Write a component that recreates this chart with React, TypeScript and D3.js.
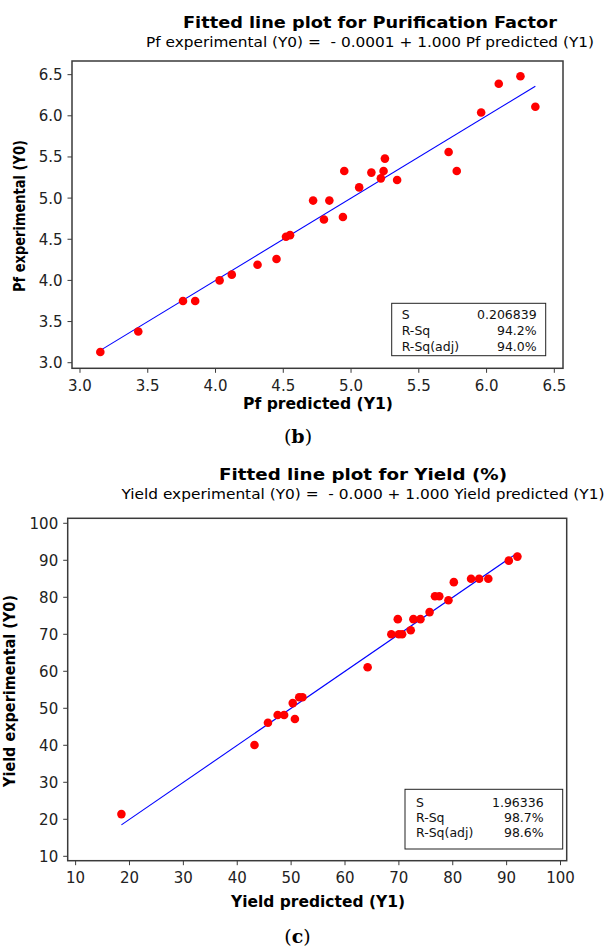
import React from 'react';
import * as d3 from 'd3';

// (b) purification factor
const pfPredicted = [3.15, 3.43, 3.76, 3.85, 4.03, 4.12, 4.31, 4.45, 4.52, 4.55, 4.72, 4.84, 4.80, 4.94, 4.95, 5.06, 5.15, 5.22, 5.24, 5.25, 5.34, 5.72, 5.78, 5.96, 6.09, 6.25, 6.36];
const pfExperimental = [3.13, 3.38, 3.75, 3.75, 4.00, 4.07, 4.19, 4.26, 4.53, 4.55, 4.97, 4.97, 4.74, 4.77, 5.33, 5.13, 5.31, 5.24, 5.33, 5.48, 5.22, 5.56, 5.33, 6.04, 6.39, 6.48, 6.11];
const pfTicks = [3.0, 3.5, 4.0, 4.5, 5.0, 5.5, 6.0, 6.5];
const pfStatValues = ['0.206839', '94.2%', '94.0%'];

// (c) yield
const yieldPredicted = [18.5, 43.2, 45.7, 47.5, 48.7, 50.7, 50.3, 51.5, 52.1, 64.2, 68.6, 69.8, 70.0, 70.6, 72.2, 72.7, 74.0, 75.7, 76.7, 77.5, 79.2, 80.2, 83.4, 84.9, 86.6, 90.4, 92.0];
const yieldExperimental = [21.4, 40.1, 46.1, 48.2, 48.2, 47.1, 51.4, 53.0, 53.0, 61.1, 70.0, 74.1, 70.0, 70.0, 71.1, 74.1, 74.1, 76.0, 80.3, 80.3, 79.2, 84.1, 85.0, 85.0, 85.0, 89.9, 91.0];
const yieldTicks = [10, 20, 30, 40, 50, 60, 70, 80, 90, 100];
const yieldStatValues = ['1.96336', '98.7%', '98.6%'];

const statLabels = ['S', 'R-Sq', 'R-Sq(adj)'];
// fitted equations: Y0 = a + b * Y1
const pfFit = [-0.0001, 1.0];
const yieldFit = [0.0, 1.0];

const SANS = "'DejaVu Sans', Verdana, sans-serif";
const SERIF = "'DejaVu Serif', 'Liberation Serif', serif";

type PlotProps = {
  xs: number[]; ys: number[]; ticks: number[]; fmt: (v: number) => string;
  fit: number[]; stats: string[];
  frame: { left: number; right: number; top: number; bottom: number };
  xDomain: number[]; yDomain: number[];
  title: string; titleX: number; titleY: number; titleLen: number;
  sub: string; subY: number; subLen: number;
  xLabel: string; xLabelX: number; xLabelY: number; xLabelLen: number;
  yLabel: string; yLabelX: number; yLabelY: number; yLabelLen: number;
  box: { left: number; right: number; top: number; bottom: number; pad: number; padR: number; first: number; step: number };
  tag: string; tagX: number; tagY: number;
};

function FittedPlot(p: PlotProps) {
  const f = p.frame;
  const x = d3.scaleLinear().domain(p.xDomain).range([f.left, f.right]);
  const y = d3.scaleLinear().domain(p.yDomain).range([f.bottom, f.top]);
  const xmin = d3.min(p.xs) as number, xmax = d3.max(p.xs) as number;
  const fitLine = d3.line<number>().x(d => x(d)).y(d => y(p.fit[0] + p.fit[1] * d));
  const tick = 4.5;
  return (
    <g>
      <text x={p.titleX} y={p.titleY} textAnchor="middle" fontFamily={SANS} fontWeight="bold" fontSize={16.5}
        textLength={p.titleLen} lengthAdjust="spacingAndGlyphs">{p.title}</text>
      <text x={p.titleX} y={p.subY} textAnchor="middle" fontFamily={SANS} fontSize={14} style={{ whiteSpace: 'pre' }}
        textLength={p.subLen} lengthAdjust="spacingAndGlyphs">{p.sub}</text>

      <rect x={f.left} y={f.top} width={f.right - f.left} height={f.bottom - f.top} fill="none" stroke="#3a3a3a" strokeWidth={1.5} />

      {p.ticks.map(t => (
        <g key={'x' + t}>
          <line x1={x(t)} x2={x(t)} y1={f.bottom} y2={f.bottom + tick} stroke="#3a3a3a" />
          <text x={x(t)} y={f.bottom + 22.5} textAnchor="middle" fontFamily={SANS} fontSize={15} fill="#222">{p.fmt(t)}</text>
        </g>
      ))}
      {p.ticks.map(t => (
        <g key={'y' + t}>
          <line x1={f.left - tick} x2={f.left} y1={y(t)} y2={y(t)} stroke="#3a3a3a" />
          <text x={f.left - 9.5} y={y(t)} dy="0.36em" textAnchor="end" fontFamily={SANS} fontSize={15} fill="#222">{p.fmt(t)}</text>
        </g>
      ))}

      <path d={fitLine([xmin, xmax]) as string} fill="none" stroke="#0000ff" strokeWidth={1.1} />
      {p.xs.map((v, i) => (
        <circle key={i} cx={x(v)} cy={y(p.ys[i])} r={4.3} fill="#ff0000" />
      ))}

      <rect x={p.box.left} y={p.box.top} width={p.box.right - p.box.left} height={p.box.bottom - p.box.top}
        fill="#fff" stroke="#222" strokeWidth={1} />
      {statLabels.map((s, i) => (
        <g key={s} fontFamily={SANS} fontSize={12.5} fill="#111">
          <text x={p.box.left + p.box.pad} y={p.box.top + p.box.first + i * p.box.step}>{s}</text>
          <text x={p.box.right - p.box.padR} y={p.box.top + p.box.first + i * p.box.step} textAnchor="end">{p.stats[i]}</text>
        </g>
      ))}

      <text x={p.xLabelX} y={p.xLabelY} textAnchor="middle" fontFamily={SANS} fontWeight="bold" fontSize={15}
        textLength={p.xLabelLen} lengthAdjust="spacingAndGlyphs">{p.xLabel}</text>
      <text transform={`translate(${p.yLabelX},${p.yLabelY}) rotate(-90)`} textAnchor="middle" fontFamily={SANS}
        fontWeight="bold" fontSize={15} textLength={p.yLabelLen} lengthAdjust="spacingAndGlyphs">{p.yLabel}</text>

      <text x={p.tagX} y={p.tagY} textAnchor="middle" fontFamily={SERIF} fontSize={19}>
        (<tspan fontWeight="bold">{p.tag}</tspan>)
      </text>
    </g>
  );
}

export default function App() {
  return (
    <svg width={605} height={949} style={{ position: 'absolute', left: 0, top: 0, background: '#fff' }}>
      <FittedPlot
        xs={pfPredicted} ys={pfExperimental} ticks={pfTicks} fmt={d3.format('.1f')}
        fit={pfFit} stats={pfStatValues}
        frame={{ left: 72, right: 563, top: 61, bottom: 368.3 }}
        xDomain={[2.941, 6.564]} yDomain={[2.932, 6.666]}
        title="Fitted line plot for Purification Factor" titleX={370} titleY={28} titleLen={374}
        sub="Pf experimental (Y0) =  - 0.0001 + 1.000 Pf predicted (Y1)" subY={46.5} subLen={448}
        xLabel="Pf predicted (Y1)" xLabelX={318} xLabelY={409} xLabelLen={150}
        yLabel="Pf experimental (Y0)" yLabelX={25} yLabelY={216} yLabelLen={152}
        box={{ left: 391.7, right: 545.7, top: 303.3, bottom: 355.7, pad: 10, padR: 9, first: 16, step: 15.7 }}
        tag="b" tagX={298} tagY={443}
      />
      <FittedPlot
        xs={yieldPredicted} ys={yieldExperimental} ticks={yieldTicks} fmt={d3.format('d')}
        fit={yieldFit} stats={yieldStatValues}
        frame={{ left: 67.7, right: 566.7, top: 518.3, bottom: 860.7 }}
        xDomain={[8.53, 101.15]} yDomain={[8.81, 101.35]}
        title="Fitted line plot for Yield (%)" titleX={363} titleY={479.5} titleLen={288}
        sub="Yield experimental (Y0) =  - 0.000 + 1.000 Yield predicted (Y1)" subY={498.5} subLen={483}
        xLabel="Yield predicted (Y1)" xLabelX={318} xLabelY={906.5} xLabelLen={174}
        yLabel="Yield experimental (Y0)" yLabelX={15} yLabelY={691} yLabelLen={192}
        box={{ left: 405, right: 562.7, top: 789.3, bottom: 849, pad: 11, padR: 19, first: 17.4, step: 15 }}
        tag="c" tagX={297.5} tagY={943}
      />
    </svg>
  );
}
